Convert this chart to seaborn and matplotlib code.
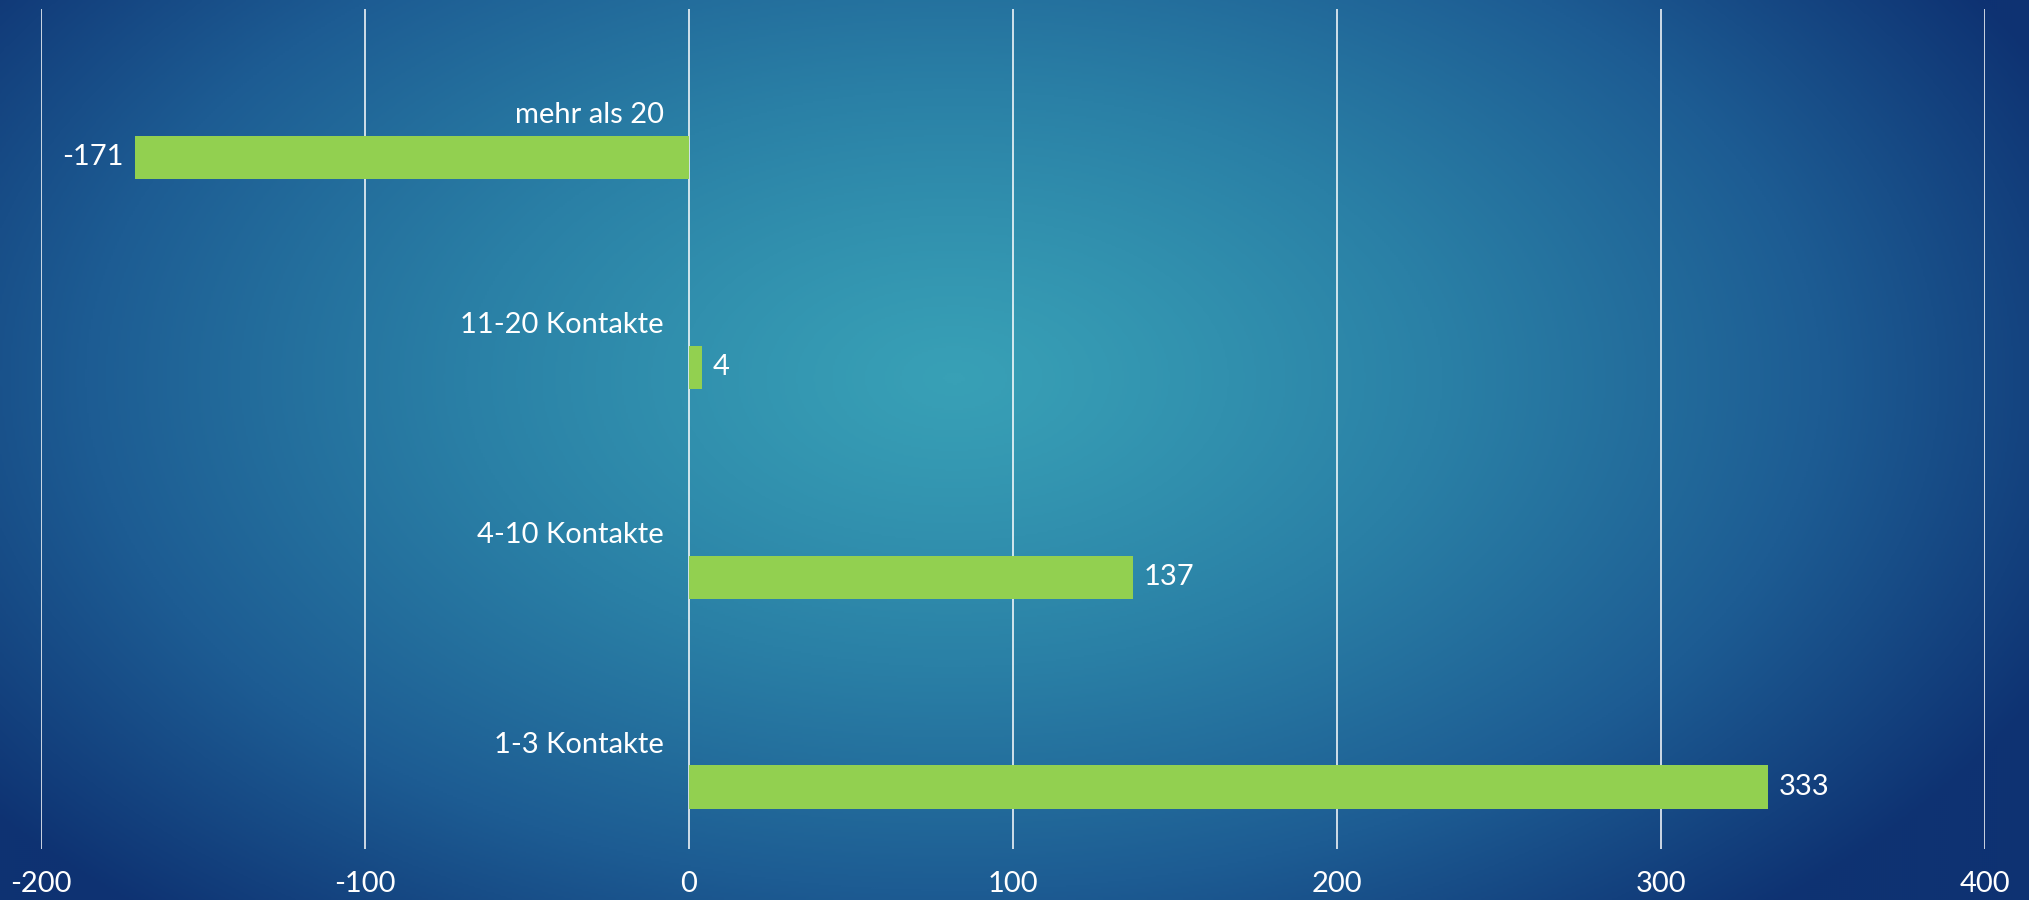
import numpy as np
import pandas as pd
import matplotlib
matplotlib.use("Agg")
import matplotlib.pyplot as plt
import seaborn as sns
from matplotlib.colors import LinearSegmentedColormap

categories = ["mehr als 20", "11-20 Kontakte", "4-10 Kontakte", "1-3 Kontakte"]
values = [-171, 4, 137, 333]
x_ticks = [-200, -100, 0, 100, 200, 300, 400]

BAR_GREEN = "#92d050"
BAR_H = 0.205   # bar thickness as a share of one category band
FS = 21

sns.set_theme(style="white")
plt.rcParams["font.family"] = ["Lato", "DejaVu Sans"]

fig = plt.figure(figsize=(20.29, 9.0), dpi=100)

# background: radial teal -> dark blue gradient
bg = fig.add_axes([0, 0, 1, 1], zorder=-10)
h, w = 450, 1015
yy, xx = np.mgrid[0:1:h * 1j, 0:1:w * 1j]
d = np.sqrt(((xx - 0.47) / 0.6) ** 2 + ((yy - 0.42) / 0.8) ** 2)
t = np.clip(d, 0, 1) ** 1.2
cmap = LinearSegmentedColormap.from_list("bg", ["#38a0b6", "#2a80a6", "#1d5c93", "#0e3272"])
bg.imshow(cmap(t), aspect="auto", extent=[0, 1, 1, 0], interpolation="bilinear")
bg.set_axis_off()

ax = fig.add_axes([0.0202, 0.0567, 0.9581, 0.9333])
ax.patch.set_alpha(0)

df = pd.DataFrame({"cat": categories, "val": values})
df["pos"] = np.arange(len(df)) + BAR_H   # bar sits just below its category label

sns.barplot(data=df, x="val", y="pos", orient="h", native_scale=True,
            width=BAR_H, color=BAR_GREEN, saturation=1, linewidth=0,
            ax=ax, zorder=3)

ax.set_xlim(-200, 400)
ax.set_ylim(len(categories) - 0.5, -0.5)
ax.set_xticks(x_ticks)
ax.set_xticklabels([str(v) for v in x_ticks])
ax.set_yticks([])
ax.set_xlabel("")
ax.set_ylabel("")
for s in ax.spines.values():
    s.set_visible(False)
ax.grid(axis="x", color="white", linewidth=1.1, zorder=1)
ax.tick_params(axis="x", length=0, pad=16, labelsize=FS, labelcolor="white")

for i, (cat, val) in enumerate(zip(categories, values)):
    ax.annotate(cat, xy=(0, i), xytext=(-18, -1), textcoords="offset points",
                ha="right", va="center", color="white", fontsize=FS)
    off = 8 if val >= 0 else -8
    ax.annotate(str(val), xy=(val, i + BAR_H), xytext=(off, 0), textcoords="offset points",
                ha="left" if val >= 0 else "right", va="center", color="white", fontsize=FS)

fig.savefig("out.png", dpi=100)
